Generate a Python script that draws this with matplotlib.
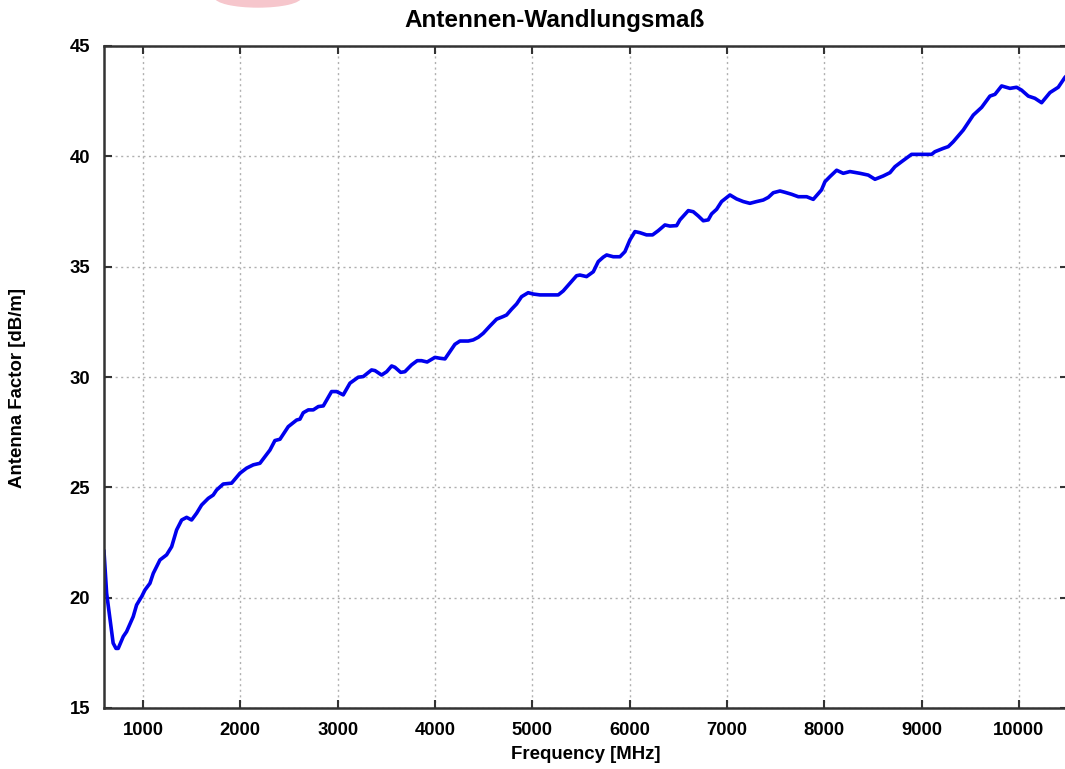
import matplotlib
matplotlib.use('Agg')
import matplotlib.pyplot as plt
from matplotlib.patches import Ellipse
import numpy as np

plt.rcParams['font.family'] = ['Liberation Sans', 'DejaVu Sans']
plt.rcParams['font.weight'] = 'bold'

# antenna factor
freq_mhz = [600, 627, 694, 723, 746, 798, 832, 900, 935, 987, 1021, 1072, 1106, 1175,
            1243, 1295, 1346, 1398, 1449, 1500, 1552, 1603, 1671, 1722, 1757, 1825,
            1911, 1997, 2065, 2134, 2202, 2253, 2305, 2356, 2408, 2493, 2579, 2613,
            2647, 2699, 2750, 2802, 2853, 2938, 2990, 3058, 3127, 3212, 3264, 3349,
            3384, 3452, 3504, 3555, 3589, 3648, 3691, 3760, 3818, 3862, 3920, 4000,
            4051, 4103, 4154, 4205, 4257, 4342, 4393, 4445, 4496, 4565, 4633, 4701,
            4736, 4787, 4839, 4890, 4958, 5010, 5079, 5182, 5267, 5318, 5387, 5455,
            5490, 5558, 5627, 5678, 5729, 5764, 5832, 5901, 5952, 6003, 6055, 6106,
            6174, 6236, 6294, 6363, 6414, 6483, 6517, 6603, 6654, 6705, 6757, 6808,
            6842, 6894, 6945, 7031, 7099, 7168, 7236, 7305, 7373, 7425, 7476, 7545,
            7596, 7665, 7733, 7819, 7887, 7972, 8007, 8058, 8127, 8195, 8264, 8367,
            8452, 8521, 8606, 8675, 8726, 8795, 8897, 8983, 9103, 9137, 9222, 9274,
            9325, 9428, 9531, 9617, 9702, 9754, 9822, 9908, 9976, 10027, 10096, 10164,
            10233, 10319, 10404, 10473, 10500]
af_db = [22.1, 20.2, 17.94, 17.7, 17.7, 18.24, 18.46, 19.14, 19.67, 20.05, 20.35, 20.65,
         21.1, 21.71, 21.94, 22.31, 23.07, 23.52, 23.64, 23.52, 23.83, 24.2, 24.5, 24.65,
         24.88, 25.15, 25.19, 25.64, 25.87, 26.02, 26.09, 26.39, 26.69, 27.12, 27.18,
         27.75, 28.05, 28.09, 28.38, 28.51, 28.51, 28.66, 28.69, 29.34, 29.34, 29.19,
         29.72, 29.99, 30.02, 30.32, 30.29, 30.09, 30.24, 30.5, 30.44, 30.21, 30.24,
         30.55, 30.74, 30.74, 30.68, 30.89, 30.85, 30.82, 31.15, 31.48, 31.63, 31.63,
         31.68, 31.8, 31.98, 32.31, 32.62, 32.74, 32.81, 33.07, 33.31, 33.64, 33.82,
         33.76, 33.72, 33.72, 33.72, 33.9, 34.25, 34.59, 34.62, 34.55, 34.77, 35.23,
         35.43, 35.53, 35.45, 35.45, 35.68, 36.21, 36.59, 36.54, 36.44, 36.44, 36.63,
         36.89, 36.84, 36.86, 37.12, 37.54, 37.49, 37.3, 37.08, 37.12, 37.39, 37.6,
         37.95, 38.25, 38.07, 37.95, 37.87, 37.95, 38.02, 38.14, 38.35, 38.43, 38.37,
         38.28, 38.17, 38.17, 38.05, 38.48, 38.85, 39.08, 39.37, 39.23, 39.31, 39.23,
         39.15, 38.96, 39.11, 39.26, 39.53, 39.76, 40.09, 40.09, 40.09, 40.21, 40.36,
         40.44, 40.66, 41.19, 41.87, 42.22, 42.73, 42.81, 43.19, 43.08, 43.13, 43.0,
         42.73, 42.63, 42.43, 42.89, 43.13, 43.58, 43.7]

x_ticks = [1000, 2000, 3000, 4000, 5000, 6000, 7000, 8000, 9000, 10000]
y_ticks = [15, 20, 25, 30, 35, 40, 45]

W, H = 1065, 769
fig = plt.figure(figsize=(W / 100, H / 100), dpi=100)
ax = fig.add_axes([104 / W, 1 - 708 / H, (1067.6 - 104) / W, (708 - 46) / H])

ax.plot(freq_mhz, af_db, color='#0000ee', lw=2.6, solid_joinstyle='round')

ax.set_xlim(600, 10500)
ax.set_ylim(15, 45)
ax.set_xticks(x_ticks)
ax.set_yticks(y_ticks)
ax.grid(True, color='#b0b0b0', ls=(0, (1.5, 2.5)), lw=1.0)
ax.tick_params(direction='in', length=6, width=1.5, top=True, right=True,
               labelsize=13.3, pad=10, color='#333333')
for lbl in ax.get_xticklabels() + ax.get_yticklabels():
    lbl.set_fontweight('bold')
for sp in ax.spines.values():
    sp.set_color('#333333')
    sp.set_linewidth(1.8)

ax.set_xlabel('Frequency [MHz]', fontsize=13.4, fontweight='bold', labelpad=5)
fig.text(18 / W, 1 - 388 / H, 'Antenna Factor [dB/m]', rotation=90, fontsize=13.4,
         fontweight='bold', ha='center', va='center')
fig.text(555 / W, 1 - 20 / H, 'Antennen-Wandlungsmaß', fontsize=17.5,
         fontweight='bold', ha='center', va='center')

# pink blob cut off at the top edge
fig.patches.append(Ellipse((258 / W, 1 + 3 / H), 86 / W, 20 / H,
                           transform=fig.transFigure, color='#f6c6cc', zorder=0))

fig.savefig('out.png', dpi=100)
